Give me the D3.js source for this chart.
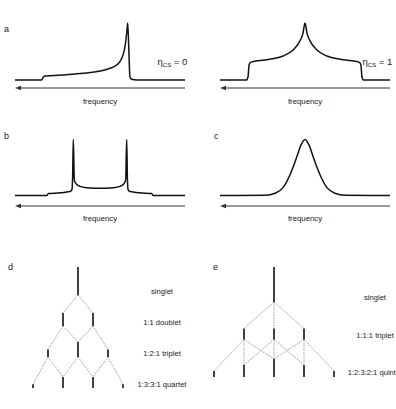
<!DOCTYPE html>
<html>
<head>
<meta charset="utf-8">
<title>Lineshapes and multiplets</title>
<script src="https://cdn.jsdelivr.net/npm/d3@7"></script>
<style>
  body { margin: 0; background: #fff; }
  svg text { font-family: "Liberation Sans", Arial, sans-serif; fill: #222; }
  .spec { fill: none; stroke: #111; stroke-width: 1.5; stroke-linejoin: round; }
  .axis-line { stroke: #333; stroke-width: 1.2; }
  .stem { stroke: #111; stroke-width: 1.6; }
  .split { stroke: #888; stroke-width: 0.8; stroke-dasharray: 1.5,1; fill: none; }
</style>
</head>
<body>
<svg id="fig" width="396" height="409"></svg>
<script>

// spectra, frequency in arbitrary units 0..100 (left -> right), intensity 0..1
var axialFreq = [0, 15.7, 16.6, 17.6, 30.4, 40.2, 50, 55.9, 59.8, 62.8, 64.7, 65.7, 66.3, 66.9, 67.6, 68.6, 71.6, 100];
var axialInt  = [0, 0, .047, .07, .093, .118, .158, .205, .263, .38, .584, .825, 1, .584, .058, .012, 0, 0];

var rhombicFreq = [0, 15.5, 16.5, 17.1, 18, 20.4, 29.2, 37.1, 43, 46.8, 48.8, 50,
                   51.2, 53.2, 57, 62.9, 70.8, 79.6, 82, 82.9, 83.5, 84.5, 100];
var rhombicInt  = [0, 0, .058, .263, .31, .328, .363, .421, .526, .672, .819, 1,
                   .819, .672, .526, .421, .363, .328, .31, .263, .058, 0, 0];

var pakeFreq = [0, 18.8, 19.6, 26.5, 32.4, 33.5, 33.9, 34.3, 34.9, 35.9, 38.2, 42.2, 50,
                57.8, 61.8, 64.1, 65.1, 65.7, 66.1, 66.5, 67.6, 73.5, 80.4, 81.2, 100];
var pakeInt  = [0, 0, .035, .047, .07, .105, .34, 1, .28, .21, .163, .14, .128,
                .14, .163, .21, .28, 1, .34, .105, .07, .047, .035, 0, 0];

var gaussFreq = [0, 26.5, 32.4, 37.1, 40.6, 42.9, 45.3, 47.6, 50, 52.4, 54.7, 57.1, 59.4, 62.9, 67.6, 73.5, 100];
var gaussInt  = [0, .005, .04, .14, .33, .5, .7, .9, 1, .9, .7, .5, .33, .14, .04, .005, 0];

// splitting trees
var dIntensities = [[1], [1, 1], [1, 2, 1], [1, 3, 3, 1]];
var dLabels = ["singlet", "1:1 doublet", "1:2:1 triplet", "1:3:3:1 quartet"];
var eIntensities = [[1], [1, 1, 1], [1, 2, 3, 2, 1]];
var eLabels = ["singlet", "1:1:1 triplet", "1:2:3:2:1 quintet"];

var svg = d3.select('#fig');

function zip(f, v) {
  return f.map(function(d, i) { return { f: d, v: v[i] }; });
}

var panels = [
  { letter: 'a', lx: 4,   ly: 32,  x0: 15,  x1: 185, base: 80,    h: 57, arrowY: 88,  textY: 104, data: zip(axialFreq, axialInt),     eta: '0', etaX: 157.5, etaY: 65 },
  { letter: null,          x0: 220, x1: 390, base: 80,    h: 57, arrowY: 88,  textY: 104, data: zip(rhombicFreq, rhombicInt), eta: '1', etaX: 362.5, etaY: 65 },
  { letter: 'b', lx: 4,   ly: 139, x0: 15,  x1: 185, base: 195.5, h: 56, arrowY: 206, textY: 221, data: zip(pakeFreq, pakeInt) },
  { letter: 'c', lx: 214, ly: 139, x0: 220, x1: 390, base: 195.5, h: 56, arrowY: 206, textY: 221, data: zip(gaussFreq, gaussInt) }
];

panels.forEach(function(p) {
  var x = d3.scaleLinear().domain([0, 100]).range([p.x0, p.x1]);
  var y = d3.scaleLinear().domain([0, 1]).range([p.base, p.base - p.h]);

  var line = d3.line()
    .x(function(d) { return x(d.f); })
    .y(function(d) { return y(d.v); })
    .curve(d3.curveMonotoneX);

  svg.append('path')
    .datum(p.data)
    .attr('class', 'spec')
    .attr('d', line);

  // frequency arrow, pointing left
  svg.append('line')
    .attr('class', 'axis-line')
    .attr('x1', p.x0 + 4).attr('x2', p.x1)
    .attr('y1', p.arrowY).attr('y2', p.arrowY);
  svg.append('path')
    .attr('d', 'M' + p.x0 + ',' + p.arrowY + 'l6,-2.3v4.6z')
    .attr('fill', '#333');

  svg.append('text')
    .attr('x', (p.x0 + p.x1) / 2)
    .attr('y', p.textY)
    .attr('text-anchor', 'middle')
    .attr('font-size', '7.8px')
    .text('frequency');

  if (p.letter) {
    svg.append('text')
      .attr('x', p.lx).attr('y', p.ly)
      .attr('font-size', '9px')
      .text(p.letter);
  }

  if (p.eta) {
    var t = svg.append('text')
      .attr('x', p.etaX).attr('y', p.etaY)
      .attr('font-size', '9.5px');
    t.append('tspan').text('\u03b7');
    t.append('tspan').attr('font-size', '6px').attr('dy', 2).text('CS');
    t.append('tspan').attr('dy', -2).text(' = ' + p.eta);
  }
});

function drawTree(opts) {
  var levels = opts.intensities;
  var x = d3.scaleLinear().domain([-opts.maxOffset, opts.maxOffset]).range(opts.xRange);
  var yb = d3.scalePoint().domain(d3.range(levels.length)).range(opts.yRange);

  var nodes = levels.map(function(row, n) {
    var m = d3.max(row);
    return row.map(function(v, i) {
      var h = v / m * opts.stemH[n];
      return { x: x(opts.offset(n, i)), bottom: yb(n), top: yb(n) - h };
    });
  });

  // dashed splitting lines from parent bottom to child top
  var links = [];
  nodes.forEach(function(row, n) {
    if (n === 0) return;
    nodes[n - 1].forEach(function(p, i) {
      for (var k = 0; k < opts.branches; k++) {
        var c = row[i + k];
        links.push({ x1: p.x, y1: p.bottom, x2: c.x, y2: c.top });
      }
    });
  });

  svg.selectAll(null)
    .data(links)
    .enter().append('line')
      .attr('class', 'split')
      .attr('x1', function(d) { return d.x1; })
      .attr('y1', function(d) { return d.y1; })
      .attr('x2', function(d) { return d.x2; })
      .attr('y2', function(d) { return d.y2; });

  svg.selectAll(null)
    .data(d3.merge(nodes))
    .enter().append('line')
      .attr('class', 'stem')
      .attr('x1', function(d) { return d.x; })
      .attr('x2', function(d) { return d.x; })
      .attr('y1', function(d) { return d.top; })
      .attr('y2', function(d) { return d.bottom; });

  svg.selectAll(null)
    .data(opts.labels)
    .enter().append('text')
      .attr('x', opts.labelX)
      .attr('y', function(d, i) { return yb(i) + opts.labelDy; })
      .attr('text-anchor', 'middle')
      .attr('font-size', '7.6px')
      .text(function(d) { return d; });

  svg.append('text')
    .attr('x', opts.letterX).attr('y', 270)
    .attr('font-size', '9px')
    .text(opts.letter);
}

drawTree({
  letter: 'd', letterX: 8,
  intensities: dIntensities, labels: dLabels,
  maxOffset: 3, xRange: [33, 123],
  offset: function(n, i) { return 2 * i - n; },
  branches: 2,
  yRange: [295, 388], stemH: [28, 13, 15, 11],
  labelX: 162, labelDy: -1
});

drawTree({
  letter: 'e', letterX: 213,
  intensities: eIntensities, labels: eLabels,
  maxOffset: 2, xRange: [214, 334],
  offset: function(n, i) { return i - n; },
  branches: 3,
  yRange: [302, 377], stemH: [35, 11, 18],
  labelX: 375, labelDy: -2
});

</script>
</body>
</html>
